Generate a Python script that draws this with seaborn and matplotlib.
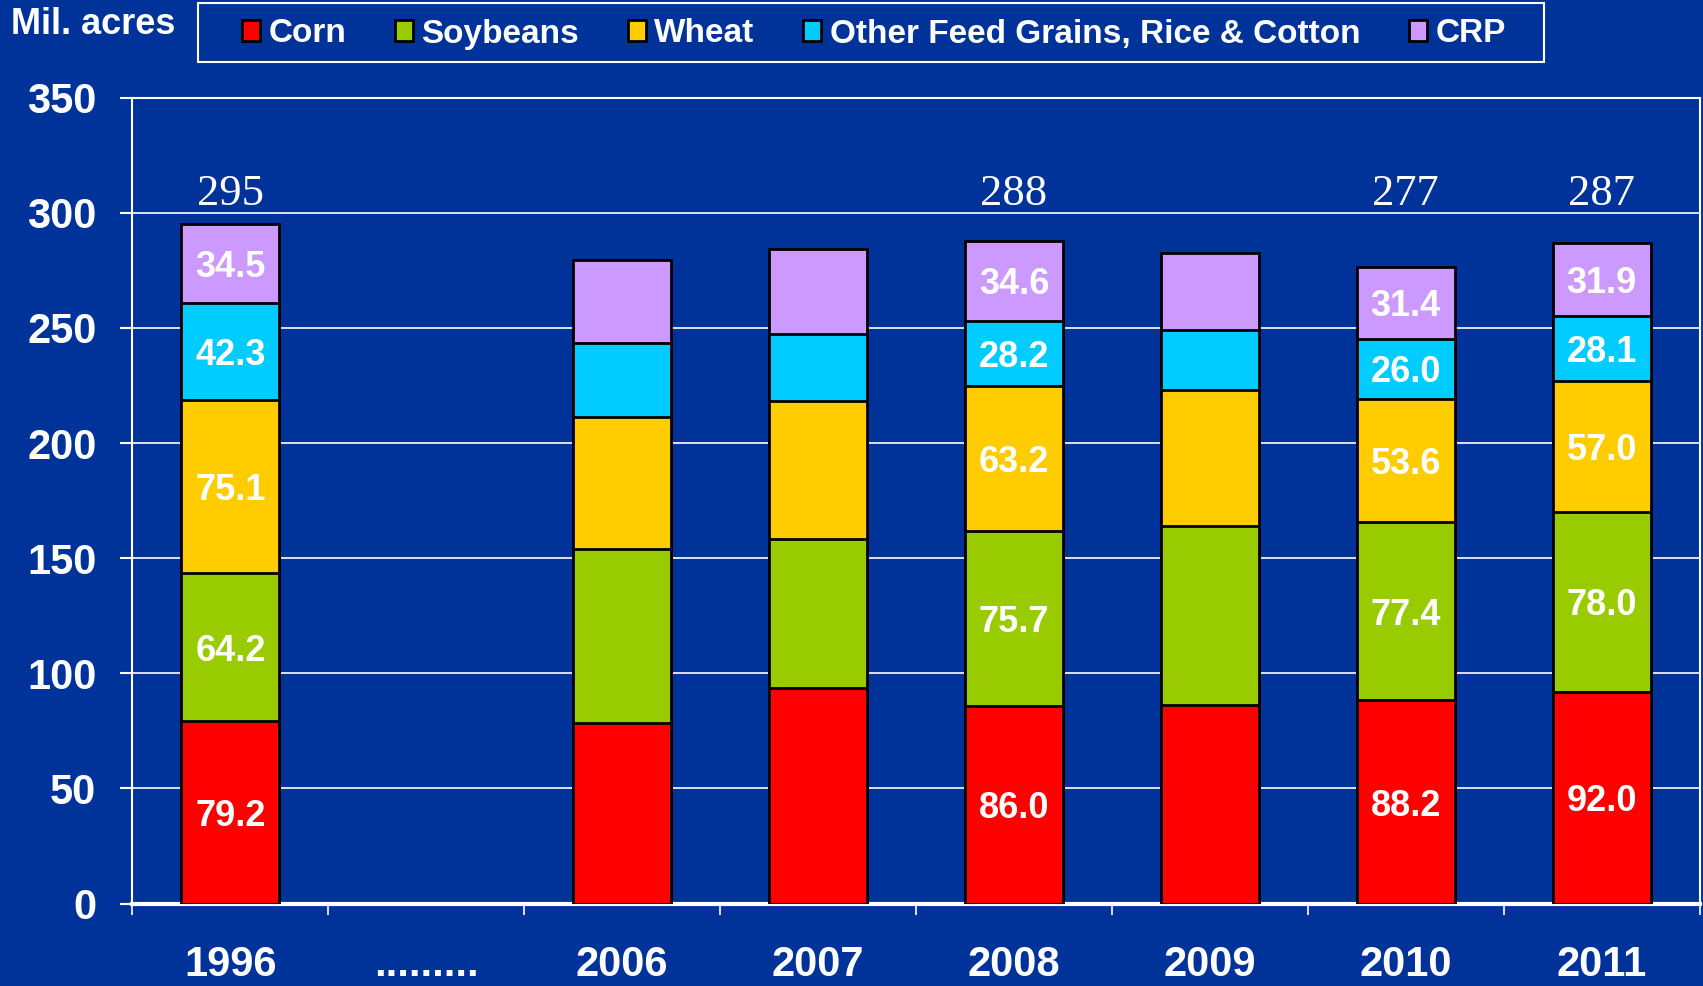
import numpy as np
import pandas as pd
import matplotlib
matplotlib.use("Agg")
import matplotlib.pyplot as plt
import seaborn as sns
from matplotlib.patches import Patch, Rectangle
from matplotlib.ticker import MultipleLocator, FixedLocator

# data (million acres)
years = ["1996", ".........", "2006", "2007", "2008", "2009", "2010", "2011"]
corn = [79.2, np.nan, 78.3, 93.5, 86.0, 86.4, 88.2, 92.0]
soybeans = [64.2, np.nan, 75.5, 64.7, 75.7, 77.5, 77.4, 78.0]
wheat = [75.1, np.nan, 57.3, 60.1, 63.2, 59.2, 53.6, 57.0]
other = [42.3, np.nan, 32.3, 29.0, 28.2, 25.9, 26.0, 28.1]
crp = [34.5, np.nan, 35.9, 36.8, 34.6, 33.7, 31.4, 31.9]
labelled = [True, False, False, False, True, False, True, True]
total_labels = ["295", "", "", "", "288", "", "277", "287"]

names = ["Corn", "Soybeans", "Wheat", "Other Feed Grains, Rice & Cotton", "CRP"]
colors = ["#FF0000", "#99CC00", "#FFCC00", "#00CCFF", "#CC99FF"]
bg = "#003399"

df = pd.DataFrame({"year": years, names[0]: corn, names[1]: soybeans,
                   names[2]: wheat, names[3]: other, names[4]: crp})
tops = df[names].cumsum(axis=1)
tops["year"] = years

sns.set_style("dark")
plt.rcParams["font.family"] = ["Liberation Sans", "DejaVu Sans"]
plt.rcParams["text.color"] = "white"

fig = plt.figure(figsize=(17.03, 9.86), dpi=100, facecolor=bg)
ax = fig.add_axes([0.0778, 0.0836, 0.9202, 0.8174])
ax.set_facecolor(bg)

# stacked bars: draw cumulative heights from the top layer down
for name, c in zip(names[::-1], colors[::-1]):
    sns.barplot(data=tops, x="year", y=name, order=years, color=c, saturation=1,
                width=0.5, edgecolor="black", linewidth=2, errorbar=None,
                ax=ax, zorder=3)

# value labels inside segments
for i in range(len(years)):
    if not labelled[i]:
        continue
    bottom = 0
    for name in names:
        v = df[name][i]
        ax.text(i, bottom + v / 2, f"{v:.1f}", ha="center", va="center_baseline",
                color="white", fontsize=26, fontweight="bold", zorder=5)
        bottom += v
    ax.text(i, 310, total_labels[i], ha="center", va="center_baseline",
            color="white", fontsize=32, family="Liberation Serif", zorder=5)

ax.set_xlim(-0.5, len(years) - 0.5)
ax.set_ylim(0, 350)
ax.yaxis.set_major_locator(MultipleLocator(50))
ax.xaxis.set_minor_locator(FixedLocator(np.arange(-0.5, len(years), 1.0)))
ax.set_xlabel("")
ax.set_ylabel("")
ax.grid(False)
ax.yaxis.grid(True, color="white", linewidth=1.2)
ax.set_axisbelow(True)

ax.tick_params(axis="y", colors="white", labelsize=30, length=9, width=1.5,
               pad=17, left=True)
ax.tick_params(axis="x", which="major", colors="white", labelsize=30, length=0,
               pad=30)
ax.tick_params(axis="x", which="minor", color="white", length=8, width=1.2,
               bottom=True)
for lab in ax.get_xticklabels() + ax.get_yticklabels():
    lab.set_fontweight("bold")

for side in ["left", "top", "right"]:
    ax.spines[side].set_visible(True)
    ax.spines[side].set_color("white")
    ax.spines[side].set_linewidth(1.5)
ax.spines["bottom"].set_visible(True)
ax.spines["bottom"].set_color("white")
ax.spines["bottom"].set_linewidth(3)

fig.text(11 / 1703, 1 - 25 / 986, "Mil. acres", ha="left", va="center",
         fontsize=26, fontweight="bold", color="white")

# legend with its own frame
fig.patches.append(Rectangle((198 / 1703, 1 - 62 / 986), (1544 - 198) / 1703,
                             59 / 986, transform=fig.transFigure,
                             facecolor="none", edgecolor="white", linewidth=1.5))
handles = [Patch(facecolor=c, edgecolor="black", linewidth=2) for c in colors]
leg = fig.legend(handles, names, loc="center left", ncol=5,
                 bbox_to_anchor=(242 / 1703, 1 - 34 / 986), frameon=False,
                 borderpad=0, borderaxespad=0, handlelength=0.55,
                 handleheight=0.6, handletextpad=0.25, columnspacing=1.45,
                 prop={"size": 24, "weight": "bold"})
for t in leg.get_texts():
    t.set_color("white")

fig.savefig("out.png", dpi=100, facecolor=bg)
